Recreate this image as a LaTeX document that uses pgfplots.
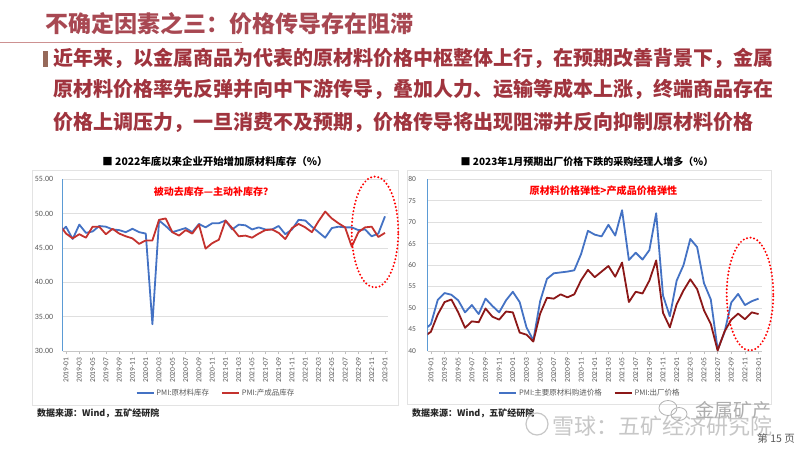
\documentclass[border=0pt]{standalone}
\usepackage{pgfplots}
\pgfplotsset{compat=1.18}
\usepackage{pgfplotstable}
\usepackage{fontspec}
\setmainfont{Carlito}
\newfontfamily\cjk{Noto Sans CJK SC}

\definecolor{bodyred}{RGB}{160,52,62}
\definecolor{titlered}{RGB}{168,72,82}
\definecolor{lblue}{RGB}{68,114,196}
\definecolor{lred}{RGB}{196,50,46}
\definecolor{rred}{RGB}{140,24,24}
\definecolor{axblue}{RGB}{91,155,213}
\definecolor{txtgray}{RGB}{89,89,89}
\definecolor{barc}{RGB}{150,105,90}

\pgfplotstableread{
idx blue red
-1 47.2 48.4
0 48.1 47.1
1 46.3 46.4
2 48.4 47.0
3 47.2 46.5
4 47.4 48.1
5 48.2 48.1
6 48.1 47.0
7 47.7 47.8
8 47.6 47.1
9 47.3 46.7
10 47.8 46.4
11 47.3 45.6
12 47.1 46.1
13 33.9 46.1
14 49.0 49.1
15 48.2 49.3
16 47.3 47.3
17 47.6 46.8
18 47.9 47.6
19 47.3 47.1
20 48.5 48.4
21 48.0 44.9
22 48.6 45.7
23 48.6 46.2
24 49.0 49.0
25 47.7 47.9
26 48.4 46.7
27 48.3 46.8
28 47.7 46.5
29 48.0 47.1
30 47.7 47.6
31 47.7 47.7
32 48.2 47.2
33 47.0 46.3
34 47.7 47.9
35 49.1 48.5
36 49.0 48.0
37 48.1 47.3
38 47.3 48.9
39 46.5 50.3
40 47.9 49.3
41 48.1 48.6
42 48.0 48.0
43 48.0 45.2
44 47.6 47.3
45 47.7 48.0
46 46.7 48.1
47 47.1 46.6
48 49.6 47.2
}\leftdata

\pgfplotstableread{
idx blue red
-1 44.8 43.3
0 46.3 44.5
1 51.9 48.5
2 53.5 51.4
3 53.1 52.0
4 51.8 49.0
5 49.0 45.4
6 50.7 46.9
7 48.6 46.7
8 52.2 49.9
9 50.5 48.0
10 49.0 47.3
11 51.8 49.2
12 53.8 49.0
13 51.4 44.3
14 45.5 43.8
15 42.5 42.2
16 51.6 48.7
17 56.8 52.4
18 58.1 52.2
19 58.3 53.2
20 58.5 52.5
21 58.8 53.2
22 62.6 56.5
23 68.0 58.9
24 67.1 57.2
25 66.7 58.5
26 69.4 59.8
27 66.9 57.3
28 72.8 60.6
29 61.2 51.4
30 62.9 53.8
31 61.3 53.4
32 63.5 56.4
33 72.1 61.1
34 52.9 48.9
35 48.1 45.5
36 56.4 50.9
37 60.0 54.1
38 66.1 56.7
39 64.2 54.4
40 55.8 49.5
41 52.0 46.3
42 40.4 40.1
43 44.3 44.5
44 51.3 47.3
45 53.3 48.7
46 50.7 47.4
47 51.6 49.0
48 52.2 48.6
}\rightdata

\pgfplotsset{
  slidechart/.style={
    scale only axis,
    anchor=south west,
    xmin=-0.5, xmax=48.5,
    xtick={0,2,...,48},
    xticklabels={2019-01,2019-03,2019-05,2019-07,2019-09,2019-11,2020-01,2020-03,2020-05,2020-07,2020-09,2020-11,2021-01,2021-03,2021-05,2021-07,2021-09,2021-11,2022-01,2022-03,2022-05,2022-07,2022-09,2022-11,2023-01},
    axis lines*=left,
    x axis line style={draw=gray!45, line width=0.8pt, -},
    y axis line style={draw=axblue, line width=1pt, -},
    ymajorgrids,
    grid style={draw=gray!25, line width=0.7pt},
    ytick style={draw=none},
    xtick style={draw=gray!50, line width=0.5pt},
    tick align=outside, major tick length=3pt,
    xticklabel style={font=\fontsize{7.5}{9}\selectfont, text=txtgray, rotate=90, anchor=east},
    legend columns=2,
    legend cell align=left,
    legend image code/.code={\draw[#1] (0pt,0pt) -- (17pt,0pt);},
  }
}

\begin{document}
\begin{tikzpicture}[x=1pt,y=1pt]
\useasboundingbox (0,0) rectangle (800,450);
\fill[white] (0,0) rectangle (800,450);

% header
\node[anchor=west, inner sep=0, text=titlered, font=\cjk\bfseries\fontsize{23}{26}\selectfont] at (45,426) {不确定因素之三：价格传导存在阻滞};
\draw[draw={rgb,255:red,205;green,145;blue,145}, line width=1pt] (0,407.3) -- (242,407.3);
\fill[barc] (43,383) rectangle (48,399);
\begin{scope}[every node/.style={anchor=west, inner sep=0, text=bodyred, font=\cjk\bfseries\fontsize{20}{24}\selectfont}]
\node at (53,392) {近年来，以金属商品为代表的原材料价格中枢整体上行，在预期改善背景下，金属};
\node at (53,361) {原材料价格率先反弹并向中下游传导，叠加人力、运输等成本上涨，终端商品存在};
\node at (53,328) {价格上调压力，一旦消费不及预期，价格传导将出现阻滞并反向抑制原材料价格};
\end{scope}

% chart frames
\draw[gray!22, line width=0.8pt] (32,45) rectangle (398,280);
\draw[gray!22, line width=0.8pt] (407,46) rectangle (771,280);

% chart titles
\node[text=black, font=\cjk\bfseries\fontsize{10.4}{12}\selectfont] at (215,288) {■ 2022年底以来企业开始增加原材料库存（\%）};
\node[text=black, font=\cjk\bfseries\fontsize{10}{12}\selectfont] at (587,288) {■ 2023年1月预期出厂价格下跌的采购经理人增多（\%）};

% left chart
\begin{axis}[slidechart,
  at={(62.7pt,99pt)}, width=325.6pt, height=171.7pt,
  ymin=30, ymax=55, ytick={30,35,...,55},
  yticklabel style={font=\fontsize{8}{9}\selectfont, text=txtgray, xshift=-3pt, /pgf/number format/.cd, fixed, fixed zerofill, precision=2, assume math mode=true},
  legend style={at={(0.471,-0.245)}, anchor=center, draw=none, fill=none, font=\cjk\fontsize{7.5}{9}\selectfont, text=txtgray, /tikz/every even column/.append style={column sep=10pt}},
]
\addplot[lblue, line width=1.8pt, line join=round] table[x=idx, y=blue] {\leftdata};
\addlegendentry{PMI:原材料库存}
\addplot[lred, line width=1.8pt, line join=round] table[x=idx, y=red] {\leftdata};
\addlegendentry{PMI:产成品库存}
\end{axis}

% right chart
\begin{axis}[slidechart,
  at={(427.5pt,99pt)}, width=334.5pt, height=171.7pt,
  ymin=40, ymax=80, ytick={40,45,...,80},
  yticklabel style={font=\fontsize{7.5}{9}\selectfont, text=txtgray, xshift=-5pt, /pgf/number format/assume math mode=true},
  legend style={at={(0.486,-0.245)}, anchor=center, draw=none, fill=none, font=\cjk\fontsize{7.5}{9}\selectfont, text=txtgray, /tikz/every even column/.append style={column sep=10pt}},
]
\addplot[lblue, line width=1.8pt, line join=round] table[x=idx, y=blue] {\rightdata};
\addlegendentry{PMI:主要原材料购进价格}
\addplot[rred, line width=1.8pt, line join=round] table[x=idx, y=red] {\rightdata};
\addlegendentry{PMI:出厂价格}
\end{axis}

% annotations
\node[text=red, font=\cjk\bfseries\fontsize{10}{12}\selectfont] at (213.5,258) {被动去库存—主动补库存？};
\node[text=red, font=\cjk\bfseries\fontsize{10.1}{12}\selectfont] at (603.5,259) {原材料价格弹性>产成品价格弹性};
\draw[red, line width=2.2pt, line cap=round, dash pattern=on 0pt off 3.6pt] (375,218) ellipse [x radius=23.3, y radius=55.5];
\draw[red, line width=2.2pt, line cap=round, dash pattern=on 0pt off 3.6pt] (750,156) ellipse [x radius=23.3, y radius=56.5];

% footers
\node[anchor=west, inner sep=0, text={rgb,255:red,38;green,38;blue,38}, font=\cjk\bfseries\fontsize{9}{10}\selectfont] at (37,37) {数据来源：Wind，五矿经研院};
\node[anchor=west, inner sep=0, text={rgb,255:red,38;green,38;blue,38}, font=\cjk\bfseries\fontsize{9}{10}\selectfont] at (412,37) {数据来源：Wind，五矿经研院};

% watermark
\draw[black!22, line width=1.2pt] (537,26) circle (11);
\node[text=black!22, font=\cjk\fontsize{22}{24}\selectfont, anchor=west, inner sep=0] at (552,24) {雪球：五矿经济研究院};
\draw[black!30, line width=0.8pt] (668,42) ellipse [x radius=9, y radius=7.5];
\draw[black!30, line width=0.8pt] (679,36) ellipse [x radius=8, y radius=6.5];
\node[text=black!32, font=\cjk\fontsize{19}{21}\selectfont, anchor=west, inner sep=0] at (695,40) {金属矿产};
\node[text=txtgray, font=\cjk\fontsize{10.5}{12}\selectfont, anchor=east, inner sep=0] at (795,12) {第 15 页};
\end{tikzpicture}
\end{document}
